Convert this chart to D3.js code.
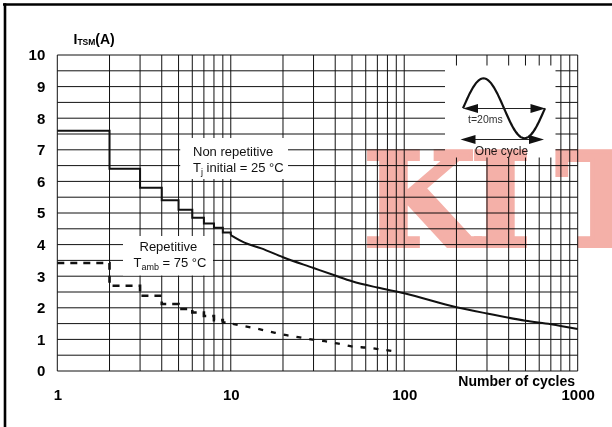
<!DOCTYPE html>
<html>
<head>
<meta charset="utf-8">
<script src="https://cdn.jsdelivr.net/npm/d3@7/dist/d3.min.js"></script>
<style>
  html, body { margin: 0; padding: 0; background: #fff; }
  svg { display: block; }
  text { font-family: "Liberation Sans", Arial, Helvetica, sans-serif; }
</style>
</head>
<body>
<script>
// ---------- DATA ----------
const xTicks = [1, 10, 100, 1000];
const yTicks = [0, 1, 2, 3, 4, 5, 6, 7, 8, 9, 10];

// Non repetitive (Tj initial = 25 °C): staircase part, then smooth part
const nrStepCycles = [1, 2, 3, 4, 5, 6, 7, 8, 9, 10];
const nrStepValues = [7.6, 6.4, 5.8, 5.4, 5.1, 4.85, 4.67, 4.53, 4.38, 4.3];
const nrCurveCycles = [10, 12, 15, 20, 30, 40, 50, 70, 100, 200, 300, 500, 700, 1000];
const nrCurveValues = [4.3, 4.06, 3.88, 3.6, 3.26, 3.02, 2.84, 2.64, 2.46, 2.02, 1.82, 1.59, 1.48, 1.33];

// Repetitive (Tamb = 75 °C)
const repStepCycles = [1, 2, 3, 4, 5, 6, 7, 8, 9, 10];
const repStepValues = [3.42, 2.7, 2.38, 2.12, 1.96, 1.85, 1.74, 1.61, 1.53, 1.5];
const repCurveCycles = [10, 12, 14.4, 17, 20.5, 24.5, 29, 36, 43, 51, 61, 72, 86, 91];
const repCurveValues = [1.5, 1.42, 1.33, 1.24, 1.14, 1.07, 1.0, 0.93, 0.85, 0.77, 0.74, 0.69, 0.63, 0.61];

// ---------- LAYOUT ----------
const W = 612, H = 427;
const L = 57.3, R = 577.7, T = 55, B = 371;

const svg = d3.select("body").append("svg").attr("width", W).attr("height", H);

const x = d3.scaleLog().domain([1, 1000]).range([L, R]);
const y = d3.scaleLinear().domain([0, 10]).range([B, T]);

// outer frame (top + left only visible)
svg.append("line").attr("x1", 3).attr("x2", W).attr("y1", 4.5).attr("y2", 4.5)
  .attr("stroke", "#000").attr("stroke-width", 2.6);
svg.append("line").attr("x1", 5).attr("x2", 5).attr("y1", 3.2).attr("y2", H)
  .attr("stroke", "#000").attr("stroke-width", 2.6);

// grid
const xGrid = [];
[1, 10, 100].forEach(d => { for (let k = 1; k < 10; k++) xGrid.push(k * d); });
xGrid.push(1000);
const yGrid = d3.range(0, 10.01, 0.5);

const grid = svg.append("g").attr("stroke", "#111").attr("stroke-width", 1);
grid.selectAll("line.v").data(xGrid).join("line").attr("class", "v")
  .attr("x1", d => x(d)).attr("x2", d => x(d)).attr("y1", T).attr("y2", B);
grid.selectAll("line.h").data(yGrid).join("line").attr("class", "h")
  .attr("x1", L).attr("x2", R).attr("y1", d => y(d)).attr("y2", d => y(d));

// white label boxes masking the grid
const boxes = [
  { x0: 445, y0: 65.5, x1: 555.5, y1: 157.5 },   // inset
  { x0: 180.2, y0: 138, x1: 288, y1: 179 },     // Non repetitive
  { x0: 123, y0: 236, x1: 213, y1: 275.5 }      // Repetitive
];
svg.append("g").selectAll("rect").data(boxes).join("rect")
  .attr("x", d => d.x0).attr("y", d => d.y0)
  .attr("width", d => d.x1 - d.x0).attr("height", d => d.y1 - d.y0)
  .attr("fill", "#fff");

// axes (labels only)
const fontAxis = "15px";
const gy = svg.append("g").attr("transform", `translate(${L},0)`)
  .call(d3.axisLeft(y).tickValues(yTicks).tickSize(0).tickPadding(12).tickFormat(d3.format("d")));
gy.select(".domain").remove();
gy.selectAll("text").attr("font-size", fontAxis).attr("font-weight", "bold")
  .attr("fill", "#000").style("font-family", '"Liberation Sans", Arial, sans-serif');

const gx = svg.append("g").attr("transform", `translate(0,${B})`)
  .call(d3.axisBottom(x).tickValues(xTicks).tickSize(0).tickPadding(18).tickFormat(d3.format("d")));
gx.select(".domain").remove();
gx.selectAll("text").attr("font-size", fontAxis).attr("font-weight", "bold")
  .attr("fill", "#000").style("font-family", '"Liberation Sans", Arial, sans-serif');

// axis titles
const yt = svg.append("text").attr("x", 73.5).attr("y", 43.5)
  .attr("font-size", "14px").attr("font-weight", "bold").attr("fill", "#000");
yt.append("tspan").text("I");
yt.append("tspan").attr("font-size", "8.5px").attr("dy", 1.5).text("TSM");
yt.append("tspan").attr("dy", -1.5).text("(A)");

svg.append("text").attr("x", 575).attr("y", 386)
  .attr("text-anchor", "end").attr("font-size", "14px").attr("font-weight", "bold")
  .attr("fill", "#000").text("Number of cycles");

// curves
const line = d3.line().x(d => x(d[0])).y(d => y(d[1]));
const nrStep = nrStepCycles.map((c, i) => [c, nrStepValues[i]]);
const nrCurve = nrCurveCycles.map((c, i) => [c, nrCurveValues[i]]);
const repStep = repStepCycles.map((c, i) => [c, repStepValues[i]]);
const repCurve = repCurveCycles.map((c, i) => [c, repCurveValues[i]]);

svg.append("path").attr("d", line.curve(d3.curveStepAfter)(nrStep))
  .attr("fill", "none").attr("stroke", "#111").attr("stroke-width", 2);
svg.append("path").attr("d", line.curve(d3.curveMonotoneX)(nrCurve))
  .attr("fill", "none").attr("stroke", "#111").attr("stroke-width", 2);

svg.append("path").attr("d", line.curve(d3.curveStepAfter)(repStep))
  .attr("fill", "none").attr("stroke", "#111").attr("stroke-width", 2.6)
  .attr("stroke-dasharray", "7,6");
svg.append("path").attr("d", line.curve(d3.curveMonotoneX)(repCurve))
  .attr("fill", "none").attr("stroke", "#111").attr("stroke-width", 2.3)
  .attr("stroke-dasharray", "5,8").attr("stroke-dashoffset", -2);

// curve labels
const lab1 = svg.append("text").attr("font-size", "13px").attr("fill", "#111");
lab1.append("tspan").attr("x", 193).attr("y", 156).text("Non repetitive");
const l1b = lab1.append("tspan").attr("x", 193).attr("y", 172);
l1b.append("tspan").text("T");
l1b.append("tspan").attr("font-size", "9px").attr("dy", 3).text("j");
l1b.append("tspan").attr("dy", -3).text(" initial = 25 °C");

const lab2 = svg.append("text").attr("font-size", "13px").attr("fill", "#111");
lab2.append("tspan").attr("x", 139.5).attr("y", 251).text("Repetitive");
const l2b = lab2.append("tspan").attr("x", 133.5).attr("y", 267);
l2b.append("tspan").text("T");
l2b.append("tspan").attr("font-size", "9px").attr("dy", 3).text("amb");
l2b.append("tspan").attr("dy", -3).text(" = 75 °C");

// inset: one sine cycle with arrows
const inset = svg.append("g");
const sx0 = 463, sx1 = 545, sy = 108.3, amp = 30;
const sinePts = d3.range(0, 1.0001, 1 / 60).map(t => [sx0 + t * (sx1 - sx0), sy - amp * Math.sin(2 * Math.PI * t)]);
inset.append("path").attr("d", d3.line().curve(d3.curveBasis)(sinePts))
  .attr("fill", "none").attr("stroke", "#111").attr("stroke-width", 2.2);

function dblArrow(xa, xb, yy) {
  const hl = 15, hw = 4.5;
  inset.append("line").attr("x1", xa + hl - 2).attr("x2", xb - hl + 2).attr("y1", yy).attr("y2", yy)
    .attr("stroke", "#222").attr("stroke-width", 1.2);
  inset.append("path").attr("d", `M${xa},${yy} L${xa + hl},${yy - hw} L${xa + hl},${yy + hw} Z`).attr("fill", "#111");
  inset.append("path").attr("d", `M${xb},${yy} L${xb - hl},${yy - hw} L${xb - hl},${yy + hw} Z`).attr("fill", "#111");
}
dblArrow(463, 545.5, 108.5);
dblArrow(460.5, 544, 139.5);

inset.append("text").attr("x", 468).attr("y", 123).attr("font-size", "10.5px").attr("fill", "#333").text("t=20ms");
inset.append("text").attr("x", 501.5).attr("y", 154.5).attr("text-anchor", "middle")
  .attr("font-size", "12px").attr("fill", "#222").text("One cycle");

// watermark
svg.append("text").attr("x", "363 470 556").attr("y", 246)
  .attr("font-family", '"DejaVu Serif", serif').attr("font-weight", "bold")
  .attr("font-size", "130px").attr("fill", "rgb(244,176,168)")
  .attr("stroke", "rgb(244,176,168)").attr("stroke-width", 4).attr("stroke-linejoin", "miter")
  .style("mix-blend-mode", "multiply").style("font-family", '"DejaVu Serif", serif')
  .text("KIT");
</script>
</body>
</html>
